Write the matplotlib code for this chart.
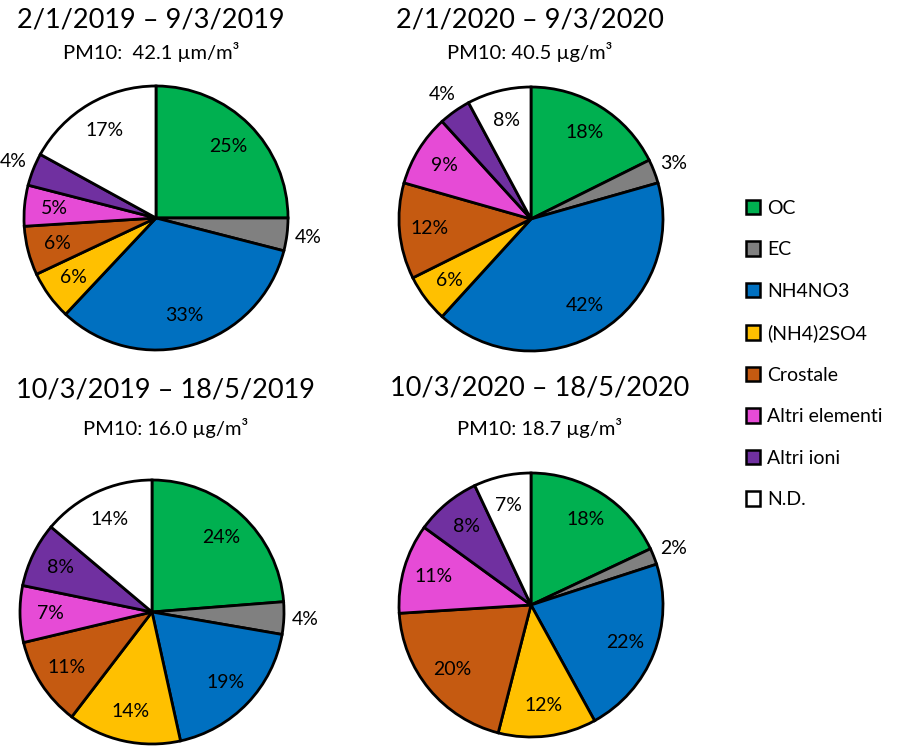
import numpy as np
import matplotlib
matplotlib.use("Agg")
import matplotlib.pyplot as plt
from matplotlib.patches import Patch

plt.rcParams["font.family"] = ["Lato", "DejaVu Sans"]

components = ["OC", "EC", "NH4NO3", "(NH4)2SO4", "Crostale",
              "Altri elementi", "Altri ioni", "N.D."]
colors = ["#00B050", "#808080", "#0070C0", "#FFC000", "#C55A11",
          "#E64BD6", "#7030A0", "#FFFFFF"]

periods = ["2/1/2019 \u2013 9/3/2019", "2/1/2020 \u2013 9/3/2020",
           "10/3/2019 \u2013 18/5/2019", "10/3/2020 \u2013 18/5/2020"]
pm10_text = ["PM10:  42.1 \u00b5m/m\u00b3", "PM10: 40.5 \u00b5g/m\u00b3",
             "PM10: 16.0 \u00b5g/m\u00b3", "PM10: 18.7 \u00b5g/m\u00b3"]

winter_2019 = [25, 4, 33, 6, 6, 5, 4, 17]
winter_2020 = [18, 3, 42, 6, 12, 9, 4, 8]
spring_2019 = [24, 4, 19, 14, 11, 7, 8, 14]
spring_2020 = [18, 2, 22, 12, 20, 11, 8, 7]
shares = [winter_2019, winter_2020, spring_2019, spring_2020]

W, H = 900, 746
fig = plt.figure(figsize=(W / 100, H / 100), dpi=100)

# pie centres and radius in pixels
centres = [(156, 218), (531, 219), (152, 612), (531, 605)]
R = 132


def draw_pie(ax, values):
    ax.pie(values, colors=colors, startangle=90, counterclock=False, radius=1,
           wedgeprops=dict(edgecolor="black", linewidth=2.0))
    total = float(sum(values))
    start = 90.0
    for v in values:
        span = 360.0 * v / total
        mid = np.deg2rad(start - span / 2)
        start -= span
        dist = 1.16 if v <= 4 else 0.77
        ax.text(dist * np.cos(mid), dist * np.sin(mid), f"{v}%",
                ha="center", va="center", fontsize=14, clip_on=False)
    ax.set_xlim(-1, 1)
    ax.set_ylim(-1, 1)
    ax.set_aspect("equal")
    ax.axis("off")


for i, (cx, cy) in enumerate(centres):
    ax = fig.add_axes([(cx - R) / W, (H - cy - R) / H, 2 * R / W, 2 * R / H])
    draw_pie(ax, shares[i])
    tx = [151, 530, 166, 540][i]
    y1 = [20, 20, 390, 388][i]
    y2 = [52, 52, 428, 428][i]
    fig.text(tx / W, 1 - y1 / H, periods[i], ha="center", va="center", fontsize=19.5)
    fig.text(tx / W, 1 - y2 / H, pm10_text[i], ha="center", va="center", fontsize=14.5)

handles = [Patch(facecolor=c, edgecolor="black", linewidth=1.8) for c in colors]
fig.legend(handles, components, loc="upper left", bbox_to_anchor=(738 / W, 1 - 192 / H),
           frameon=False, fontsize=14, handlelength=0.75, handleheight=0.75,
           handletextpad=0.35, labelspacing=1.26, borderaxespad=0)

fig.savefig("out.png", dpi=100, facecolor="white")
